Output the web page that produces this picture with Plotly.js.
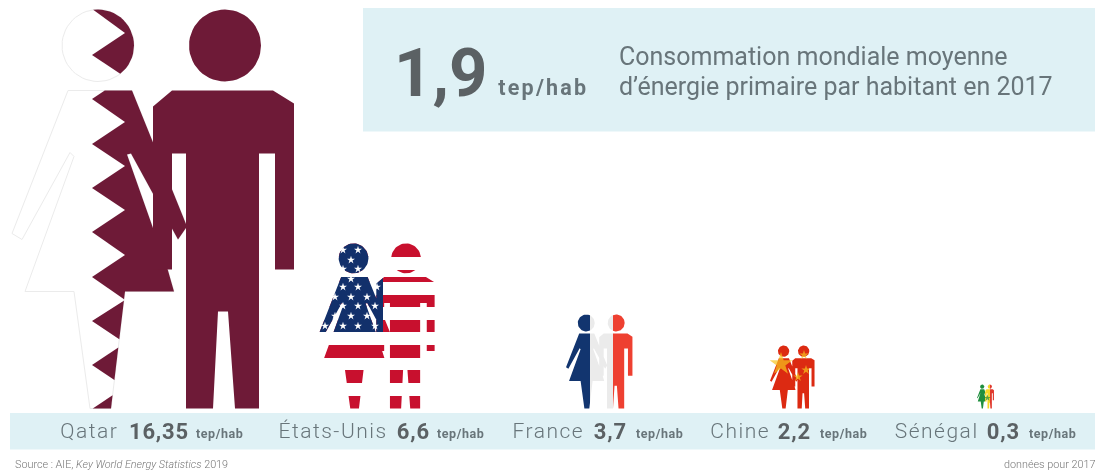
<!DOCTYPE html>
<html>
<head>
<meta charset="utf-8">
<script src="https://cdn.plot.ly/plotly-3.0.1.min.js"></script>
<style>html,body{margin:0;padding:0;background:#fff;overflow:hidden}#chart{width:1095px;height:470px;filter:blur(0.5px)}</style>
</head>
<body>
<div id="chart"></div>
<script>
// ---- data ----
const countries = ["Qatar", "États-Unis", "France", "Chine", "Sénégal"];
const values = ["16,35", "6,6", "3,7", "2,2", "0,3"];
const unit = "tep/hab";
const worldValue = "1,9";
const headline = ["Consommation mondiale moyenne", "d’énergie primaire par habitant en 2017"];
const figureHeights = [399, 165, 94, 63, 24];

// ---- layout constants ----
const figureLefts = [12, 318, 566, 770, 977];
const baseY = 408.5;
const labelCentres = [[89, 158.5, 219], [332.5, 413, 460], [548.5, 610.5, 659], [740, 794, 843], [936.5, 1003.5, 1052]];

// Pictogram silhouettes, in the coordinates of the tallest figure
const manBody = [[172,90],[273,90],[294,103],[294,269],[275,269],[275,153],[259,153],[259,408],[235,408],[228,311],[218,311],[213,408],[186,408],[186,153],[172,153],[172,269],[153,269],[153,106]];
const womanBody = [[68,90],[132,90],[187,226],[178,239],[131,153],[127,154],[168,270],[174,291],[125,291],[111,408],[90,408],[74,291],[25,291],[74,156],[70,152],[22,239],[12,233]];
const manHead = [225, 45, 36], womanHead = [98, 45, 36];
const circle = ([cx, cy, r]) => Array.from({length: 56}, (_, i) => [cx + r*Math.cos(i*Math.PI/28), cy + r*Math.sin(i*Math.PI/28)]);

const placer = i => { const s = figureHeights[i]/399; return ([x, y]) => [figureLefts[i] + (x-12)*s, baseY - (408-y)*s]; };
const shapesOf = i => { const p = placer(i); return [womanBody, circle(womanHead), manBody, circle(manHead)].map(poly => poly.map(p)); };

// Sutherland-Hodgman against a convex polygon
function clip(subject, convex) {
  let area = 0; convex.forEach((a, k) => { const b = convex[(k+1)%convex.length]; area += a[0]*b[1]-b[0]*a[1]; });
  const sgn = Math.sign(area); let out = subject;
  convex.forEach((a, k) => {
    const b = convex[(k+1)%convex.length], input = out; out = [];
    const side = q => sgn*((b[0]-a[0])*(q[1]-a[1])-(b[1]-a[1])*(q[0]-a[0]));
    input.forEach((c, m) => {
      const d = input[(m+1)%input.length], sc = side(c), sd = side(d);
      if (sc >= 0) out.push(c);
      if ((sc >= 0) !== (sd >= 0)) { const t = sc/(sc-sd); out.push([c[0]+t*(d[0]-c[0]), c[1]+t*(d[1]-c[1])]); }
    });
  });
  return out;
}
const rect = (x0, y0, x1, y1) => [[x0,y0],[x1,y0],[x1,y1],[x0,y1]];

const traces = [];
function addPolys(polys, color, line) {
  const x = [], y = [];
  polys.filter(p => p.length > 2).forEach(p => { p.concat([p[0]]).forEach(q => { x.push(q[0]); y.push(q[1]); }); x.push(null); y.push(null); });
  traces.push({type:"scatter", mode:"lines", x, y, fill:"toself", fillcolor:color,
    line: line ? {color:line, width:1} : {width:0, color:color}, hoverinfo:"skip", showlegend:false});
}
function addStars(pts, color, sizes) {
  traces.push({type:"scatter", mode:"markers", x:pts.map(p=>p[0]), y:pts.map(p=>p[1]),
    marker:{symbol:"star", color, size:sizes, line:{width:0}}, hoverinfo:"skip", showlegend:false});
}
function addClipped(polys, region, color) { addPolys(polys.map(p => clip(p, region)), color); }

// Qatar
const maroon = "#6e1a37";
const qa = shapesOf(0);
addPolys([qa[0], qa[1]], "#ffffff", "#ebebeb");
const qaToothTips = [55, 99, 144, 188, 232, 277, 321, 365];
const qaNotches = [33, 77, 122, 166, 210, 255, 300, 343, 387];
const qaRegions = [rect(125, 0, 210, 409)];
qaToothTips.forEach((t, k) => qaRegions.push([[125, qaNotches[k]], [92, t], [125, qaNotches[k+1]]]));
qaRegions.push([[92, 9], [125, 9], [125, 33]]);
qaRegions.push([[125, 387], [125, 409], [92, 409]]);
qaRegions.forEach(r => { addClipped([qa[0], qa[1]], r, maroon); });
addPolys([qa[2], qa[3]], maroon);

// United States
const us = shapesOf(1);
const usRedBands = [[243,257],[270,282],[295,307],[320,332],[345,358],[370,383],[396,409]];
usRedBands.forEach(b => addClipped(us, rect(300, b[0], 450, b[1]), "#c8102e"));
addClipped(us, rect(300, 240, 383, 332), "#12306b");
const usStars = [[343,250],[358,250],[351,260],[343,269],[358,269],[351,279],[343,287],[358,287],[335,297],[351,297],[367,297],[377,287],[343,306],[358,306],[375,306],[335,316],[351,316],[367,316],[343,326],[358,326],[375,326],[325,326]];
addStars(usStars, "#ffffff", 6);

// France
const fr = shapesOf(2);
addClipped(fr, rect(560, 310, 590, 412), "#12356f");
addClipped(fr, rect(590, 310, 613, 412), "#ebebeb");
addClipped(fr, rect(613, 310, 640, 412), "#ee4031");

// China
const cn = shapesOf(3);
addPolys(cn, "#dc2a12");
addStars([[781,364],[804,355],[806,370],[798,377]], "#f6c51c", [17,7,7,7]);

// Senegal
const sn = shapesOf(4);
addClipped(sn, rect(975, 380, 985, 412), "#1f8f3e");
addClipped(sn, rect(985, 380, 990, 412), "#f5d728");
addClipped(sn, rect(990, 380, 998, 412), "#e0382c");
addStars([[987.5,398]], "#1f8f3e", [5]);

// Text
const grey = "#68757a", dark = "#5b6164";
const ann = (text, x, y, size, color, weight, extra) => Object.assign({
  text, x, y, xref:"x", yref:"y", xanchor:"center", yanchor:"middle", showarrow:false,
  font:{family:"Roboto, sans-serif", size, color, weight}
}, extra||{});
const annotations = [];
countries.forEach((c, i) => {
  annotations.push(ann(c, labelCentres[i][0], 431, 21, grey, 300));
  annotations.push(ann(values[i], labelCentres[i][1], 431, 22, dark, 700));
  annotations.push(ann(unit, labelCentres[i][2], 433, 12.5, grey, 700));
});
annotations.push(ann(worldValue, 440, 73, 67, dark, 700));
annotations.push(ann(unit, 543, 87, 21.5, grey, 700));
annotations.push(ann(headline[0], 813.5, 56, 25, grey, 400));
annotations.push(ann(headline[1], 836, 86, 25, grey, 400));
annotations.push(ann("Source : AIE, <i>Key World Energy Statistics</i> 2019", 121, 464, 10.8, "#777", 300));
annotations.push(ann("données pour 2017", 1049, 464, 10.8, "#777", 300));

const shapes = [
  {type:"rect", xref:"x", yref:"y", x0:363, x1:1095, y0:8, y1:131.5, fillcolor:"#dff1f5", line:{width:0}, layer:"below"},
  {type:"rect", xref:"x", yref:"y", x0:10, x1:1095, y0:413, y1:449.5, fillcolor:"#dff1f5", line:{width:0}, layer:"below"}
];

const layout = {
  width:1095, height:470, margin:{l:0,r:0,t:0,b:0}, paper_bgcolor:"#fff", plot_bgcolor:"#fff",
  xaxis:{range:[0,1095], visible:false, fixedrange:true},
  yaxis:{range:[470,0], visible:false, fixedrange:true},
  showlegend:false, shapes, annotations
};
Plotly.newPlot("chart", traces, layout, {displayModeBar:false, staticPlot:true}).then(() => {
  document.querySelectorAll(".annotation-text").forEach(t => {
    const txt = t.textContent, size = parseFloat(t.style.fontSize);
    if (countries.includes(txt)) t.style.letterSpacing = "1.5px";
    else if (values.includes(txt)) t.style.letterSpacing = "0.8px";
    else if (txt === unit) t.style.letterSpacing = size > 15 ? "2.2px" : "0.6px";
  });
});
</script>
</body>
</html>
